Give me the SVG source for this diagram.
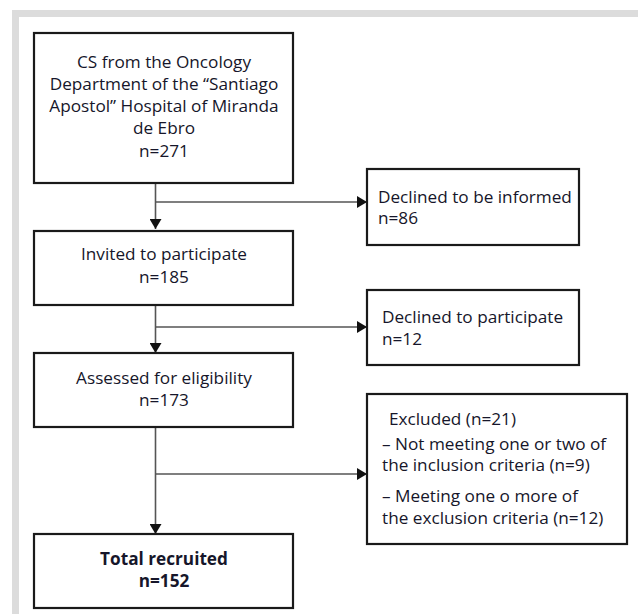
<svg xmlns="http://www.w3.org/2000/svg" width="638" height="614" viewBox="0 0 638 614">
<defs>
<style>
.frame{fill:#dcdcdc}
.box{fill:#fff;stroke:#1a1a1a;stroke-width:2.2}
.line{fill:none;stroke:#555;stroke-width:1.6}
text{font-family:"Open Sans","Noto Sans","Liberation Sans",sans-serif;font-size:17.2px;fill:#16162a}
.c{text-anchor:middle}
.b{font-weight:bold}
</style>
<marker id="arrw" viewBox="0 0 10 10" refX="10" refY="5" markerWidth="10" markerHeight="12" markerUnits="userSpaceOnUse" orient="auto" preserveAspectRatio="none">
<path d="M0,0 L10,5 L0,10 Z" fill="#111"/>
</marker>
</defs>
<rect x="0" y="0" width="638" height="614" fill="#fff"/>
<rect class="frame" x="12" y="10" width="626" height="7"/>
<rect class="frame" x="12" y="10" width="7" height="604"/>
<g id="connectors">
<line class="line" x1="155.5" y1="183" x2="155.5" y2="229" marker-end="url(#arrw)"/>
<line class="line" x1="155.5" y1="202" x2="367" y2="202" marker-end="url(#arrw)"/>
<line class="line" x1="155.5" y1="305" x2="155.5" y2="353" marker-end="url(#arrw)"/>
<line class="line" x1="155.5" y1="327" x2="367" y2="327" marker-end="url(#arrw)"/>
<line class="line" x1="155.5" y1="427" x2="155.5" y2="534" marker-end="url(#arrw)"/>
<line class="line" x1="155.5" y1="474" x2="367" y2="474" marker-end="url(#arrw)"/>
</g>
<g id="n1">
<rect class="box" x="34" y="33" width="259" height="150"/>
<text class="c" x="164" y="68">CS from the Oncology</text>
<text class="c" x="164" y="90">Department of the “Santiago</text>
<text class="c" x="164" y="112">Apostol” Hospital of Miranda</text>
<text class="c" x="164" y="134">de Ebro</text>
<text class="c" x="164" y="157">n=271</text>
</g>
<g id="n2">
<rect class="box" x="34" y="231" width="259" height="74"/>
<text class="c" x="164" y="260">Invited to participate</text>
<text class="c" x="164" y="283">n=185</text>
</g>
<g id="n3">
<rect class="box" x="34" y="353" width="259" height="74"/>
<text class="c" x="164" y="384">Assessed for eligibility</text>
<text class="c" x="164" y="406">n=173</text>
</g>
<g id="n4">
<rect class="box" x="34" y="534" width="259" height="74"/>
<text class="c b" x="164" y="565">Total recruited</text>
<text class="c b" x="164" y="587">n=152</text>
</g>
<g id="r1">
<rect class="box" x="367" y="169" width="212" height="76"/>
<text x="378" y="203">Declined to be informed</text>
<text x="378" y="224">n=86</text>
</g>
<g id="r2">
<rect class="box" x="367" y="290" width="212" height="75"/>
<text x="382" y="323">Declined to participate</text>
<text x="382" y="345">n=12</text>
</g>
<g id="r3">
<rect class="box" x="367" y="394" width="260" height="150"/>
<text x="389" y="425">Excluded (n=21)</text>
<text x="382" y="450">– Not meeting one or two of</text>
<text x="382" y="471">the inclusion criteria (n=9)</text>
<text x="382" y="502">– Meeting one o more of</text>
<text x="382" y="524">the exclusion criteria (n=12)</text>
</g>
</svg>
